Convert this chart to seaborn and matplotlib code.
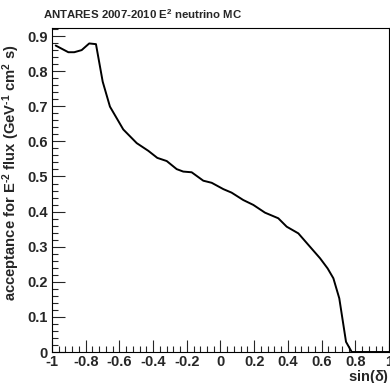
import matplotlib
matplotlib.use("Agg")
import matplotlib.pyplot as plt
from matplotlib.ticker import MultipleLocator
import seaborn as sns
import pandas as pd

# Acceptance versus sin(declination) for an E^-2 neutrino flux
sin_dec = [-0.978, -0.903, -0.868, -0.824, -0.779, -0.739, -0.699, -0.656,
           -0.577, -0.497, -0.428, -0.375, -0.319, -0.260, -0.221, -0.171,
           -0.102, -0.052, 0.017, 0.066, 0.135, 0.195, 0.264, 0.343,
           0.393, 0.462, 0.531, 0.591, 0.636, 0.670, 0.705, 0.745,
           0.779, 1.0]
acceptance = [0.873, 0.854, 0.854, 0.860, 0.879, 0.877, 0.770, 0.699,
              0.634, 0.595, 0.573, 0.553, 0.544, 0.521, 0.514, 0.512,
              0.488, 0.482, 0.464, 0.454, 0.433, 0.419, 0.397, 0.381,
              0.357, 0.338, 0.300, 0.267, 0.238, 0.210, 0.153, 0.029,
              0.0, 0.0]

x_ticks = [-1, -0.8, -0.6, -0.4, -0.2, 0, 0.2, 0.4, 0.6, 0.8, 1]
x_tick_labels = ["-1", "-0.8", "-0.6", "-0.4", "-0.2", "0", "0.2", "0.4", "0.6", "0.8", "1"]
y_ticks = [0, 0.1, 0.2, 0.3, 0.4, 0.5, 0.6, 0.7, 0.8, 0.9]
y_tick_labels = ["0", "0.1", "0.2", "0.3", "0.4", "0.5", "0.6", "0.7", "0.8", "0.9"]

sns.set_style("ticks")
plt.rcParams["font.family"] = ["Liberation Sans", "DejaVu Sans"]
plt.rcParams["font.weight"] = "bold"
plt.rcParams["mathtext.fontset"] = "custom"
plt.rcParams["mathtext.rm"] = "Liberation Sans:bold"
plt.rcParams["mathtext.it"] = "Liberation Sans:bold"
plt.rcParams["mathtext.bf"] = "Liberation Sans:bold"

df = pd.DataFrame({"sin_dec": sin_dec, "acceptance": acceptance})

fig = plt.figure(figsize=(3.90, 3.83), dpi=100)
ax = fig.add_axes([0.1333, 0.0809, 0.8641, 0.846])

sns.lineplot(data=df, x="sin_dec", y="acceptance", ax=ax, color="black",
             linewidth=1.4, sort=False, estimator=None)

ax.set_xlim(-1, 1)
ax.set_ylim(0, 0.923)
ax.set_xticks(x_ticks)
ax.set_xticklabels(x_tick_labels)
ax.set_yticks(y_ticks)
ax.set_yticklabels(y_tick_labels)
ax.xaxis.set_minor_locator(MultipleLocator(0.04))
ax.yaxis.set_minor_locator(MultipleLocator(0.02))
ax.tick_params(which="major", direction="in", length=9, width=0.8,
               labelsize=10.5, pad=2, top=False, right=False)
ax.tick_params(axis="y", which="major", pad=3)
ax.tick_params(which="minor", direction="in", length=4.5, width=0.8,
               top=False, right=False)
for lab in ax.get_xticklabels() + ax.get_yticklabels():
    lab.set_fontweight("bold")
for sp in ax.spines.values():
    sp.set_linewidth(0.8)
    sp.set_color("black")

ax.set_xlabel(r"sin($\delta$)", fontsize=10.5, fontweight="bold")
ax.xaxis.set_label_coords(1.0, -0.05)
ax.xaxis.label.set_horizontalalignment("right")
ax.xaxis.label.set_verticalalignment("top")
ax.set_ylabel(r"acceptance for E$^{\text{-}2}$ flux (GeV$^{\text{-}1}$ cm$^{2}$ s)",
              fontsize=10.6, fontweight="bold")
ax.yaxis.set_label_coords(-0.12, 0.9475)
ax.yaxis.label.set_verticalalignment("center")
ax.yaxis.label.set_horizontalalignment("right")

fig.text(0.110, 0.962, r"ANTARES 2007-2010 E$^{2}$ neutrino MC",
         fontsize=8.2, fontweight="bold", ha="left", va="center")

fig.savefig("out.png", dpi=100, facecolor="white")
